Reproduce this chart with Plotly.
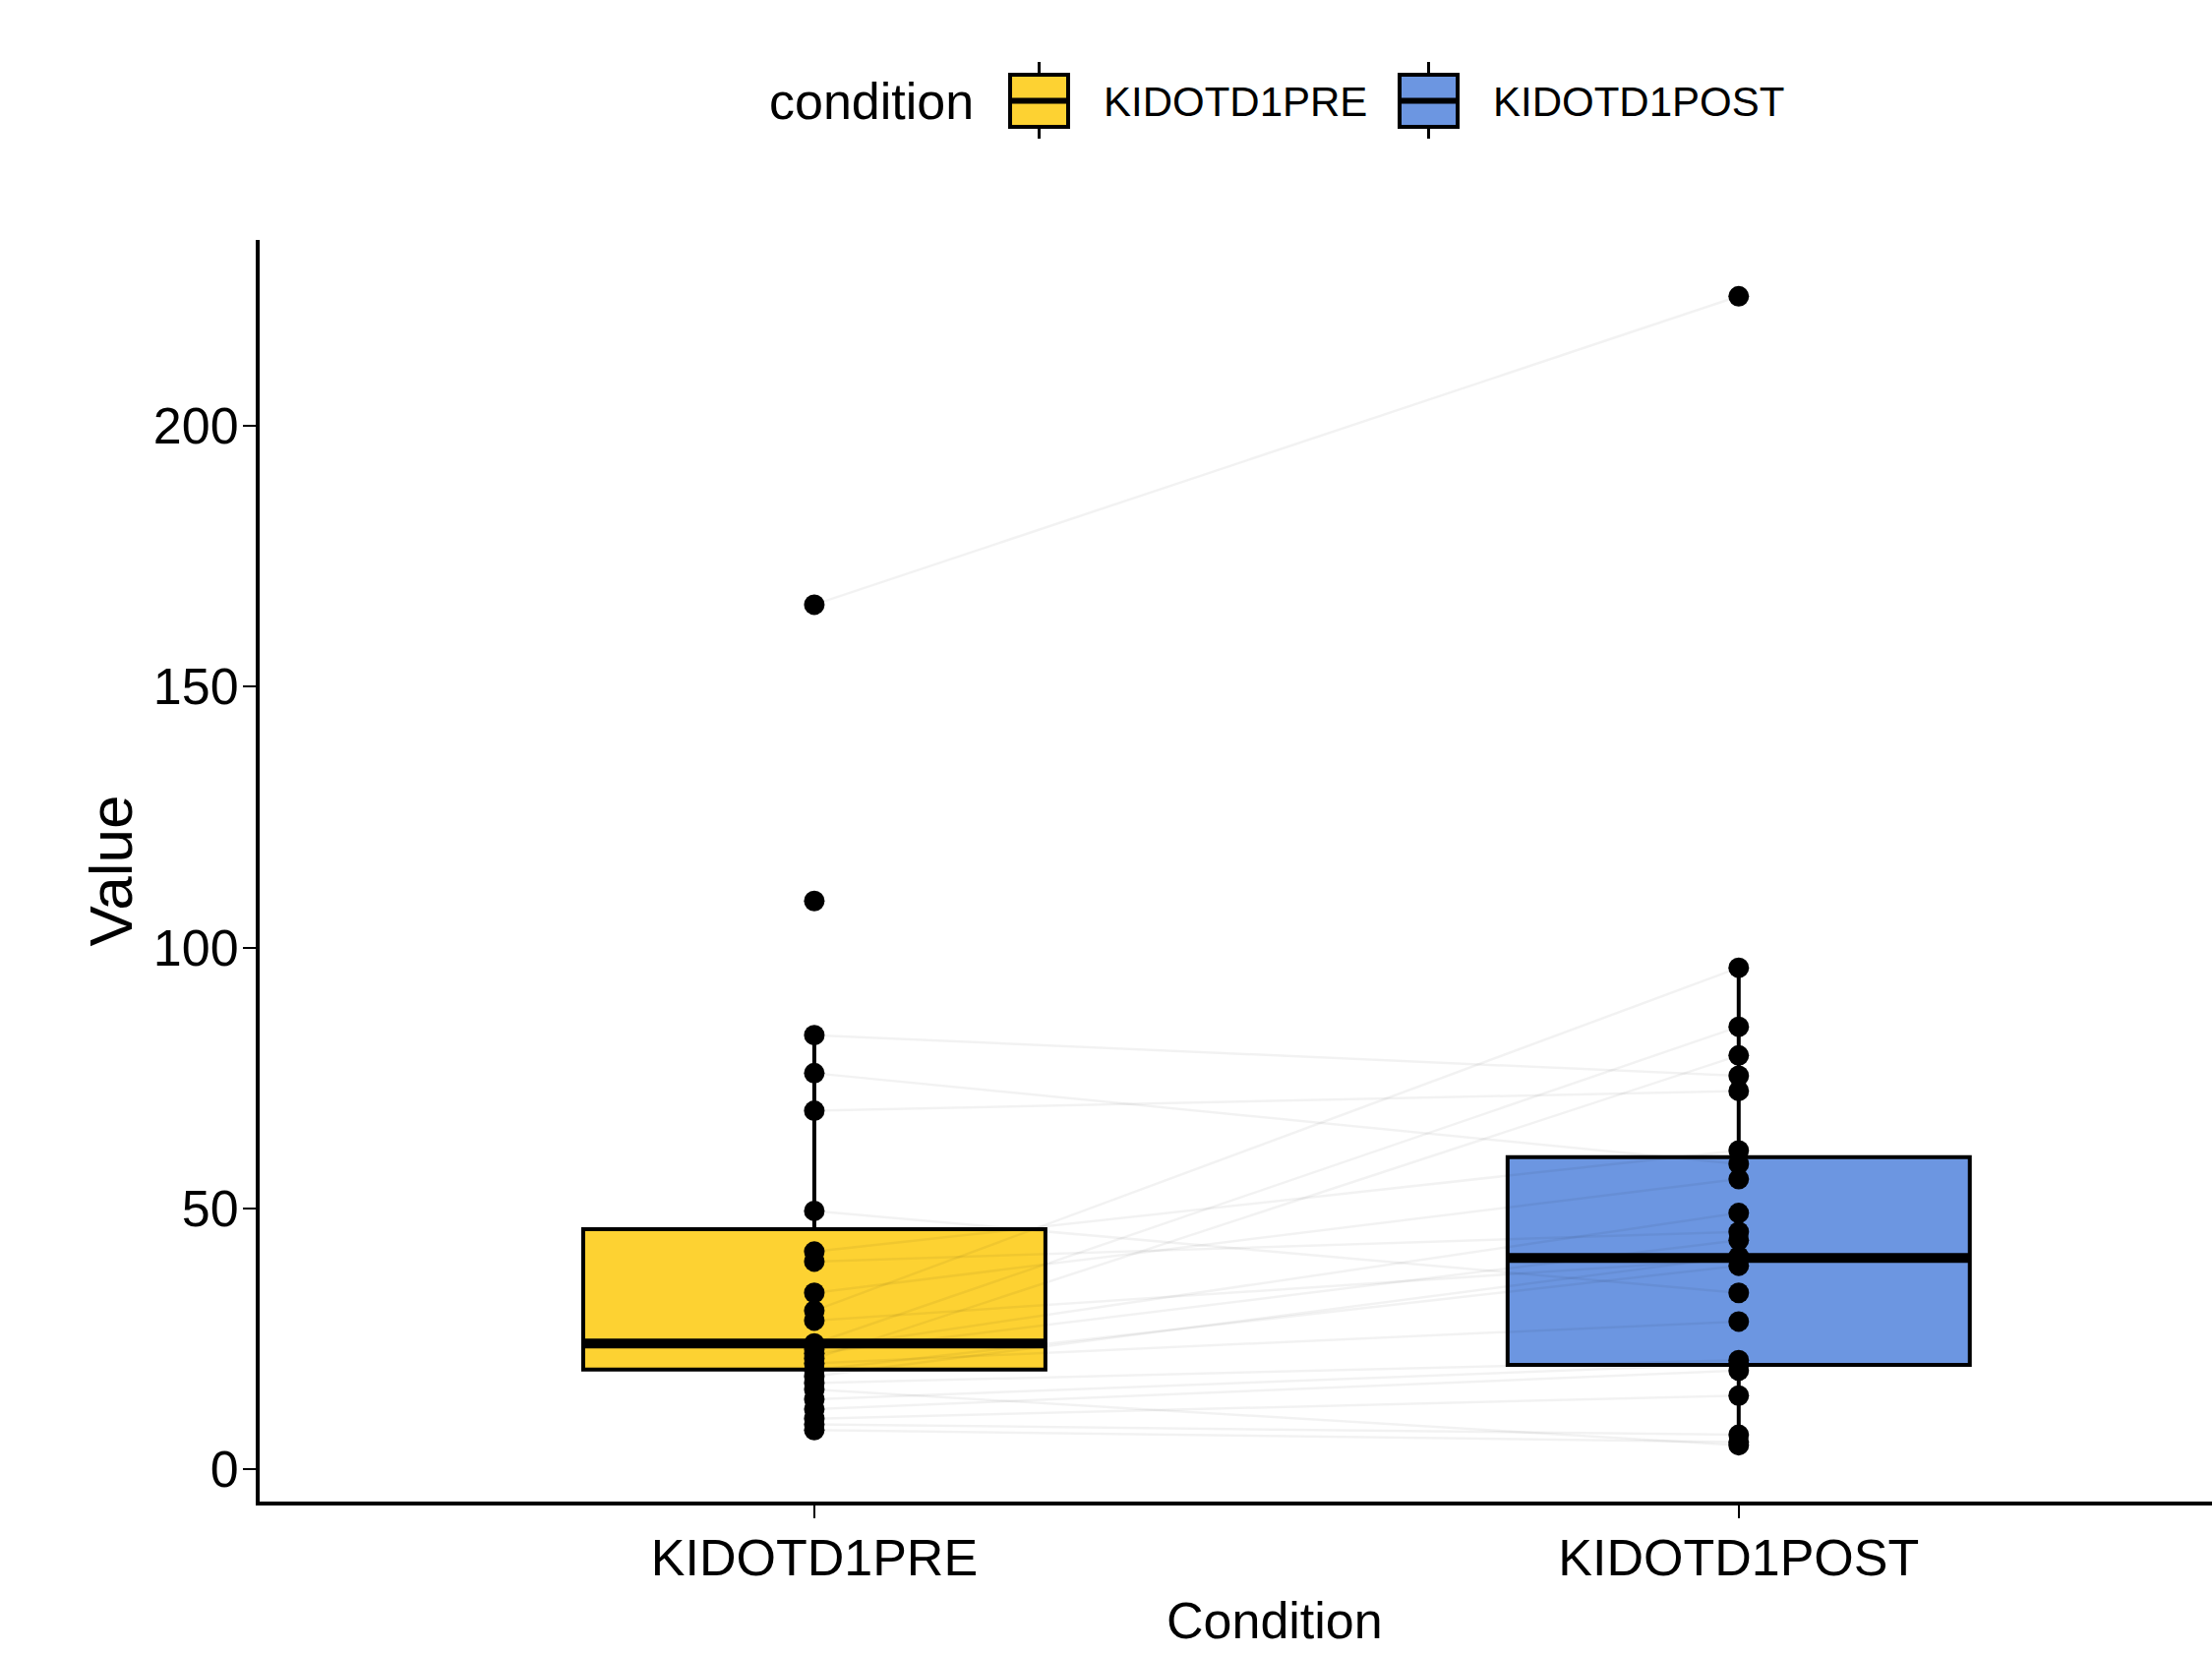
import plotly.graph_objects as go

# ---------------- data ----------------
categories = ["KIDOTD1PRE", "KIDOTD1POST"]
cat_pos = [1, 2]

# paired observations (None = missing partner)
pre_values = [165.7, 108.9, 83.2, 75.9, 68.7, 49.5, 41.7, 39.8, 33.8, 30.4, 28.5,
              24.1, 23.0, 22.2, 21.2, 20.3, 19.0, 17.8, 16.5, 15.3, 13.4, 11.5,
              9.7, 8.6, 7.5]
post_values = [224.8, None, 75.4, 58.5, 72.5, 33.8, 61.1, 45.5, 55.6, 96.1, 40.3,
               84.8, 49.1, 43.9, 79.3, 28.3, 39.0, 40.8, 20.9, 4.6, 20.2, 18.9,
               14.1, 6.6, 5.2]

# box statistics as drawn
box_q1 = [19.1, 20.0]
box_median = [24.1, 40.5]
box_q3 = [46.0, 59.8]
box_lower = [7.5, 4.6]
box_upper = [83.2, 96.1]

fill_colors = ["#FDD232", "#6C96E1"]
y_ticks = [0, 50, 100, 150, 200]

# ---------------- layout geometry ----------------
W, H = 2249, 1681
ML, MR, MT, MB = 264, 0, 244, 154
PW, PH = W - ML - MR, H - MT - MB
FONT = "Liberation Sans, Arial, sans-serif"
BOX_W = 0.5


def px_x(px):
    return (px - ML) / PW


def px_y(py):
    return (H - MB - py) / PH


fig = go.Figure()

# boxes
for i, name in enumerate(categories):
    fig.add_trace(go.Box(
        x=[cat_pos[i]], q1=[box_q1[i]], median=[box_median[i]], q3=[box_q3[i]],
        lowerfence=[box_lower[i]], upperfence=[box_upper[i]],
        width=BOX_W, whiskerwidth=0, boxpoints=False,
        fillcolor=fill_colors[i], line=dict(color="black", width=4),
        name=name, showlegend=False, hoverinfo="skip",
    ))

# paired lines
lx, ly = [], []
for a, b in zip(pre_values, post_values):
    if a is None or b is None:
        continue
    lx += [cat_pos[0], cat_pos[1], None]
    ly += [a, b, None]
fig.add_trace(go.Scatter(x=lx, y=ly, mode="lines",
                         line=dict(color="rgba(0,0,0,0.05)", width=2.5),
                         showlegend=False, hoverinfo="skip"))

# thick median lines
mx, my = [], []
for i in range(len(categories)):
    mx += [cat_pos[i] - BOX_W / 2, cat_pos[i] + BOX_W / 2, None]
    my += [box_median[i], box_median[i], None]
fig.add_trace(go.Scatter(x=mx, y=my, mode="lines",
                         line=dict(color="black", width=10),
                         showlegend=False, hoverinfo="skip"))

# points
px_, py_ = [], []
for v in pre_values:
    if v is not None:
        px_.append(cat_pos[0]); py_.append(v)
for v in post_values:
    if v is not None:
        px_.append(cat_pos[1]); py_.append(v)
fig.add_trace(go.Scatter(x=px_, y=py_, mode="markers",
                         marker=dict(color="black", size=21),
                         showlegend=False, hoverinfo="skip"))

# ---------------- manual legend ----------------
shapes = []
annotations = []
annotations.append(dict(text="condition", x=px_x(886), y=px_y(103), xref="paper", yref="paper",
                        xanchor="center", yanchor="middle", showarrow=False,
                        font=dict(family=FONT, size=52, color="black")))
key_x = [1027, 1423]
label_x = [1120, 1516]
for i, name in enumerate(categories):
    x0, x1 = key_x[i], key_x[i] + 59
    xc = (x0 + x1) / 2
    shapes.append(dict(type="line", xref="paper", yref="paper",
                       x0=px_x(xc), x1=px_x(xc), y0=px_y(63), y1=px_y(141),
                       line=dict(color="black", width=3)))
    shapes.append(dict(type="rect", xref="paper", yref="paper",
                       x0=px_x(x0), x1=px_x(x1), y0=px_y(76), y1=px_y(129),
                       fillcolor=fill_colors[i], line=dict(color="black", width=4)))
    shapes.append(dict(type="line", xref="paper", yref="paper",
                       x0=px_x(x0), x1=px_x(x1), y0=px_y(102.5), y1=px_y(102.5),
                       line=dict(color="black", width=6)))
    annotations.append(dict(text=name, x=px_x(label_x[i]), y=px_y(103), xref="paper", yref="paper",
                            xanchor="left", yanchor="middle", showarrow=False,
                            font=dict(family=FONT, size=42, color="black")))

# axis titles
annotations.append(dict(text="Condition", x=px_x(1296), y=px_y(1648), xref="paper", yref="paper",
                        xanchor="center", yanchor="middle", showarrow=False,
                        font=dict(family=FONT, size=52, color="black")))
annotations.append(dict(text="Value", x=px_x(112), y=0.5, xref="paper", yref="paper",
                        xanchor="center", yanchor="middle", showarrow=False, textangle=-90,
                        font=dict(family=FONT, size=62, color="black")))

fig.update_layout(
    width=W, height=H,
    margin=dict(l=ML, r=MR, t=MT, b=MB, autoexpand=False),
    paper_bgcolor="white", plot_bgcolor="white",
    showlegend=False,
    shapes=shapes, annotations=annotations,
    font=dict(family=FONT, color="black"),
)
fig.update_xaxes(
    range=[0.4, 2.512], tickvals=cat_pos, ticktext=categories,
    showgrid=False, zeroline=False, showline=True, linecolor="black", linewidth=4,
    ticks="outside", ticklen=13, tickwidth=2, tickcolor="black",
    tickfont=dict(family=FONT, size=52, color="black"), ticklabelstandoff=-4,
)
fig.update_yaxes(
    range=[-6.2, 235.6], tickvals=y_ticks,
    showgrid=False, zeroline=False, showline=True, linecolor="black", linewidth=4,
    ticks="outside", ticklen=13, tickwidth=2, tickcolor="black",
    tickfont=dict(family=FONT, size=52, color="black"), ticklabelstandoff=-6,
)

fig.write_html("out.html")
